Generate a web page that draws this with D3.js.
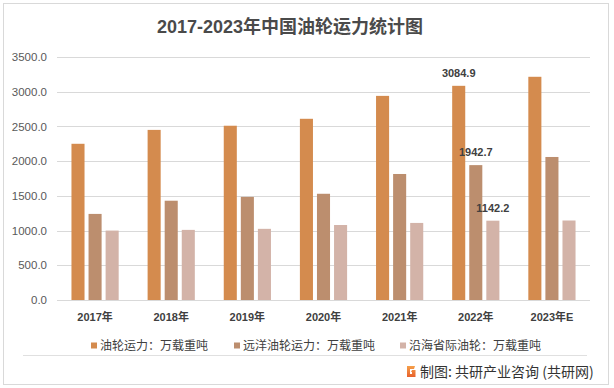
<!DOCTYPE html>
<html>
<head>
<meta charset="utf-8">
<script src="https://cdn.jsdelivr.net/npm/d3@7"></script>
<style>
  html, body { margin: 0; padding: 0; background: #fff; }
  svg { display: block; }
  text { font-family: "Liberation Sans", "Noto Sans CJK SC", sans-serif; }
</style>
</head>
<body>
<svg id="chart" width="614" height="388"></svg>
<script>
const categories = ["2017年", "2018年", "2019年", "2020年", "2021年", "2022年", "2023年E"];
const seriesNames = ["油轮运力：万载重吨", "远洋油轮运力：万载重吨", "沿海省际油轮：万载重吨"];
const tankerCapacity = [2250, 2450, 2510, 2610, 2940, 3084.9, 3215];
const oceanTankerCapacity = [1240, 1430, 1485, 1530, 1815, 1942.7, 2060];
const coastalTankerCapacity = [1000, 1010, 1025, 1080, 1110, 1142.2, 1145];
const yTicks = [0, 500, 1000, 1500, 2000, 2500, 3000, 3500];
const labelledCategory = "2022年";
const colors = ["#D48B4E", "#BC8E6E", "#D3B3A8"];

const seriesValues = [tankerCapacity, oceanTankerCapacity, coastalTankerCapacity];
const data = categories.map((c, i) => ({ cat: c, vals: seriesValues.map(s => s[i]) }));

const svg = d3.select("#chart");

// outer border
svg.append("rect").attr("x", 3.5).attr("y", 3.5).attr("width", 605).attr("height", 381)
  .attr("fill", "#fff").attr("stroke", "#d9d9d9").attr("stroke-width", 1);

// title
svg.append("text").attr("x", 290).attr("y", 33).attr("text-anchor", "middle")
  .attr("font-size", 18).attr("font-weight", "bold").attr("fill", "#4a4a4a")
  .text("2017-2023年中国油轮运力统计图");

const plotLeft = 57, plotRight = 590, plotTop = 57, plotBottom = 300;

const y = d3.scaleLinear().domain([0, 3500]).range([plotBottom, plotTop]);
const x0 = d3.scaleBand().domain(categories).range([plotLeft, plotRight])
  .paddingInner(0.38).paddingOuter(0.19);
const x1 = d3.scaleBand().domain(d3.range(3)).range([0, x0.bandwidth()]).paddingInner(0.235);

// gridlines
svg.append("g").selectAll("line").data(yTicks).join("line")
  .attr("x1", plotLeft).attr("x2", plotRight)
  .attr("y1", d => Math.round(y(d)) + 0.5).attr("y2", d => Math.round(y(d)) + 0.5)
  .attr("stroke", "#d9d9d9").attr("stroke-width", 1);

// y axis labels
const yAxis = d3.axisLeft(y).tickValues(yTicks).tickFormat(d3.format(".1f")).tickSize(0).tickPadding(0);
const gy = svg.append("g").attr("transform", `translate(47,0)`).call(yAxis);
gy.select(".domain").remove();
gy.selectAll("text").attr("font-size", 11.5).attr("fill", "#595959")
  .style("font-family", '"Liberation Sans", sans-serif');

// bars
const groups = svg.append("g").selectAll("g").data(data).join("g")
  .attr("transform", d => `translate(${x0(d.cat)},0)`);
groups.selectAll("rect").data(d => d.vals.map((v, i) => ({ v, i }))).join("rect")
  .attr("x", d => x1(d.i)).attr("width", x1.bandwidth())
  .attr("y", d => y(d.v)).attr("height", d => y(0) - y(d.v))
  .attr("fill", d => colors[d.i]);

// data labels for 2022
const lab = data.find(d => d.cat === labelledCategory);
svg.append("g").selectAll("text").data(lab.vals.map((v, i) => ({ v, i }))).join("text")
  .attr("x", d => x0(labelledCategory) + x1(d.i) + x1.bandwidth() / 2)
  .attr("y", d => y(d.v) - 9)
  .attr("text-anchor", "middle").attr("font-size", 11).attr("font-weight", "bold")
  .attr("fill", "#404040")
  .text(d => d3.format(".1f")(d.v));

// x axis labels
const xAxis = d3.axisBottom(x0).tickSize(0).tickPadding(0);
const gx = svg.append("g").attr("transform", `translate(0,313)`).call(xAxis);
gx.select(".domain").remove();
gx.selectAll("text").attr("font-size", 11).attr("font-weight", "bold").attr("fill", "#404040")
  .attr("dy", "0.71em");

// legend
const legendX = [91, 234, 400];
const lg = svg.append("g").selectAll("g").data(seriesNames).join("g")
  .attr("transform", (d, i) => `translate(${legendX[i]},345.5)`);
lg.append("rect").attr("x", 0).attr("y", -3).attr("width", 6).attr("height", 6)
  .attr("fill", (d, i) => colors[i]);
lg.append("text").attr("x", 9).attr("y", 0).attr("dy", "0.36em")
  .attr("font-size", 12).attr("fill", "#404040")
  .style("font-family", '"Noto Sans CJK SC", sans-serif')
  .text(d => d);

// separator
svg.append("line").attr("x1", 23).attr("x2", 587).attr("y1", 355.5).attr("y2", 355.5)
  .attr("stroke", "#e0e0e0").attr("stroke-width", 1);

// footer logo
const logo = svg.append("g").attr("transform", "translate(406,366)");
const grad = svg.append("defs").append("linearGradient").attr("id", "lg1")
  .attr("x1", 0).attr("y1", 0).attr("x2", 0).attr("y2", 1);
grad.append("stop").attr("offset", "0%").attr("stop-color", "#F5A04A");
grad.append("stop").attr("offset", "100%").attr("stop-color", "#E8612C");
logo.append("path")
  .attr("d", "M1,0 H9 L8,3 H4 V8 H6 V6 H5 L6,4 H9.5 V11 H1 Z")
  .attr("fill", "url(#lg1)");

// footer text
svg.append("text").attr("x", 420).attr("y", 371.5).attr("dy", "0.36em")
  .attr("font-size", 14).attr("fill", "#333")
  .style("font-family", '"Noto Sans CJK SC", sans-serif')
  .text("制图: 共研产业咨询 (共研网)");
</script>
</body>
</html>
